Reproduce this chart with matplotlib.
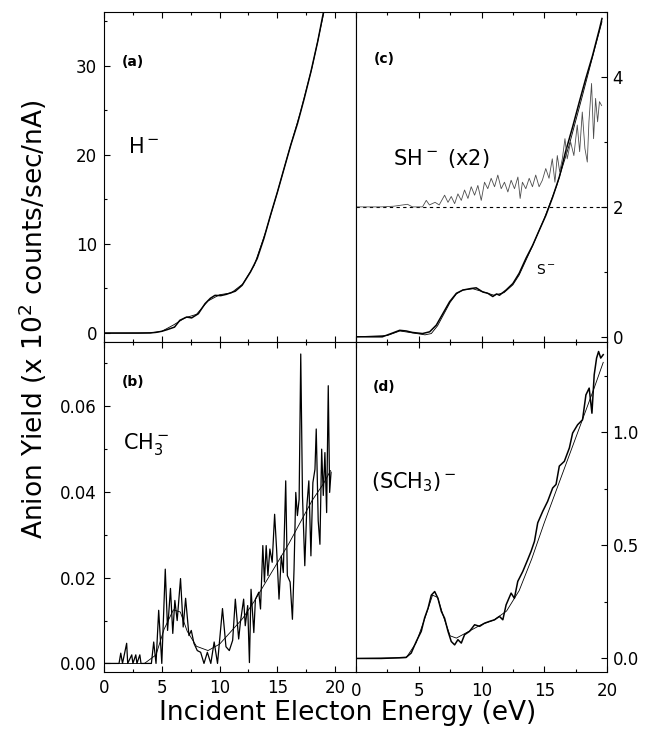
import matplotlib
matplotlib.use("Agg")
import matplotlib.pyplot as plt
from matplotlib.ticker import MultipleLocator

# ---- data ----
# (a) H-
e_a = [0, 1, 2, 3, 4, 4.5, 5.0, 5.5, 6.1, 6.56, 7.15, 7.58, 8.16, 8.74, 9.2, 9.6,
       10.1, 10.6, 11.36, 11.95, 12.67, 13.25, 13.83, 14.4, 15.0, 15.58, 16.16,
       16.74, 17.32, 17.9, 18.49, 19.0, 19.4]
h_a = [0, 0, 0, 0, 0.02, 0.08, 0.2, 0.4, 0.67, 1.43, 1.8, 1.7, 2.17, 3.3, 3.9, 4.23,
       4.2, 4.35, 4.7, 5.36, 6.85, 8.35, 10.6, 13.2, 15.8, 18.46, 21.1,
       23.5, 26.3, 29.3, 32.7, 36.07, 38.5]
e_a_fit = [0, 4, 5, 6, 7, 8, 9, 10, 11, 12, 13, 14, 15, 16, 17, 18, 19, 19.4]
h_a_fit = [0, 0.02, 0.2, 0.9, 1.7, 2.1, 3.6, 4.3, 4.5, 5.5, 7.6, 11.4, 15.8, 20.4, 24.8, 29.8, 35.8, 38.5]

# (b) CH3-
e_b = [0, 1.3, 1.45, 1.6, 1.96, 2.05, 2.4, 2.5, 2.75, 2.85, 3.1, 3.2, 4.1, 4.3, 4.5,
       4.73, 5.0, 5.3, 5.5, 5.75, 5.95, 6.13, 6.33, 6.62, 6.85, 7.06, 7.35, 7.55,
       7.78, 8.07, 8.36, 8.65, 8.94, 9.24, 9.53, 9.82, 10.25, 10.55, 10.84, 11.13,
       11.36, 11.65, 11.8, 12.08, 12.22, 12.43, 12.58, 12.72, 12.96, 13.1, 13.39,
       13.54, 13.74, 13.88, 14.03, 14.18, 14.35, 14.55, 14.76, 14.93, 15.14, 15.34,
       15.51, 15.72, 15.86, 16.1, 16.3, 16.44, 16.59, 16.73, 16.88, 17.02, 17.17,
       17.37, 17.55, 17.72, 17.9, 18.07, 18.25, 18.36, 18.53, 18.68, 18.83, 18.97,
       19.11, 19.26, 19.4, 19.52, 19.64]
ch3_b = [0, 0, 0.0024, 0, 0.0047, 0, 0.002, 0, 0.002, 0, 0.002, 0, 0, 0.005, 0.0,
         0.0124, 0, 0.022, 0.0077, 0.0175, 0.007, 0.0147, 0.01, 0.0198, 0.0085, 0.0152, 0.0065, 0.0077,
         0.0047, 0.003, 0.0026, 0, 0.0026, 0, 0.005, 0, 0.0128, 0.0039, 0.003, 0.0054,
         0.015, 0.0057, 0.0096, 0.015, 0.0088, 0.0135, 0.0002, 0.0173, 0.0072, 0.015, 0.0166,
         0.0127, 0.0275, 0.019, 0.0275, 0.0205, 0.0267, 0.0236, 0.0348, 0.0267, 0.015, 0.0251,
         0.0212, 0.0426, 0.0205, 0.019, 0.0103, 0.022, 0.0399, 0.0345, 0.0383, 0.0722, 0.0391,
         0.0228, 0.0368, 0.0426, 0.0251, 0.0422, 0.0453, 0.0547, 0.0333, 0.0278, 0.05, 0.0392,
         0.0492, 0.0352, 0.0648, 0.0399, 0.0446]
e_b_fit = [0, 3.5, 4.5, 5.2, 6.0, 6.6, 7.2, 8.0, 9.0, 10.0, 11.0, 12.0, 13.0, 14.0,
           15.0, 16.0, 17.0, 18.0, 19.0, 19.6]
ch3_b_fit = [0, 0, 0.002, 0.008, 0.0125, 0.012, 0.0075, 0.004, 0.003, 0.0045, 0.0075,
             0.0105, 0.0145, 0.019, 0.0235, 0.028, 0.033, 0.038, 0.042, 0.045]

# (c) S- and SH- (x2, drawn on top of a baseline at 2)
e_c = [0, 1, 2.1, 2.8, 3.48, 4.0, 4.5, 5.3, 5.87, 6.4, 6.93, 7.46, 8.0, 8.52, 9.18,
       9.58, 10.1, 10.5, 10.9, 11.2, 11.43, 11.96, 12.5, 13.0, 13.55, 14.08, 14.6,
       15.13, 15.67, 16.2, 16.7, 17.26, 17.8, 18.3, 18.85, 19.4, 19.6]
s_c = [0.0, 0.0, 0.0, 0.05, 0.10, 0.09, 0.067, 0.05, 0.077, 0.18, 0.36, 0.54, 0.67, 0.72, 0.744,
       0.754, 0.69, 0.67, 0.62, 0.66, 0.64, 0.72, 0.82, 0.977, 1.21, 1.41, 1.64,
       1.87, 2.15, 2.46, 2.85, 3.23, 3.62, 3.97, 4.33, 4.74, 4.9]
e_c_fit = [0, 2.5, 3.5, 4.5, 5.5, 6.0, 6.5, 7.0, 7.5, 8.0, 8.5, 9.3, 10.0, 11.0, 11.8,
           12.5, 13.0, 14.0, 15.0, 16.0, 17.0, 18.0, 19.0, 19.6]
s_c_fit = [0, 0.02, 0.09, 0.06, 0.03, 0.05, 0.17, 0.35, 0.53, 0.66, 0.72, 0.74, 0.70,
           0.64, 0.68, 0.8, 0.95, 1.37, 1.82, 2.33, 2.96, 3.68, 4.42, 4.85]
sh_offset = 2.0
e_sh = [0, 1, 2, 3, 4.1, 4.5, 5.3, 5.6, 5.85, 6.3, 6.63, 7.06, 7.33, 7.59, 7.86, 8.12,
        8.39, 8.65, 8.92, 9.18, 9.45, 9.71, 9.98, 10.24, 10.5, 10.77, 11.04, 11.3,
        11.57, 11.83, 12.1, 12.36, 12.63, 12.9, 13.08, 13.26, 13.53, 13.8, 14.06, 14.32,
        14.59, 14.85, 15.12, 15.38, 15.64, 15.85, 16.04, 16.23, 16.44, 16.65, 16.83,
        17.1, 17.36, 17.63, 17.82, 18.03, 18.24, 18.43, 18.56, 18.77, 18.93, 19.09,
        19.25, 19.4, 19.57]
sh_c = [0.0, 0.0, 0.0, 0.01, 0.04, 0.0, 0.0, 0.1, 0.03, 0.07, 0.03, 0.18, 0.07, 0.16,
        0.05, 0.2, 0.1, 0.26, 0.13, 0.31, 0.18, 0.33, 0.1, 0.38, 0.28, 0.44, 0.31, 0.49,
        0.28, 0.38, 0.23, 0.41, 0.28, 0.46, 0.13, 0.38, 0.28, 0.44, 0.31, 0.49,
        0.31, 0.41, 0.59, 0.44, 0.74, 0.38, 0.79, 0.54, 0.74, 1.05, 0.74,
        1.0, 0.79, 1.26, 0.85, 1.46, 0.9, 0.69, 1.31, 1.9, 1.05, 1.67,
        1.31, 1.62, 1.56]

# (d) (SCH3)-
e_d = [0, 1, 2, 3, 3.46, 4.0, 4.4, 4.8, 5.2, 5.47, 5.74, 6.0, 6.27, 6.53, 6.8, 7.06,
       7.33, 7.59, 7.86, 8.12, 8.39, 8.65, 9.05, 9.45, 9.85, 10.24, 10.64, 11.04,
       11.43, 11.7, 11.96, 12.36, 12.62, 12.89, 13.29, 13.68, 13.95, 14.22, 14.48,
       14.88, 15.27, 15.67, 15.94, 16.2, 16.6, 17.0, 17.26, 17.66, 18.05, 18.32,
       18.58, 18.8, 18.98, 19.17, 19.33, 19.5, 19.7]
sch3_d = [0, 0, 0, 0.002, 0.003, 0.005, 0.024, 0.075, 0.12, 0.18, 0.222, 0.28, 0.296,
          0.266, 0.208, 0.178, 0.12, 0.075, 0.06, 0.083, 0.068, 0.105, 0.12, 0.149,
          0.142, 0.156, 0.164, 0.171, 0.186, 0.171, 0.237, 0.289, 0.266, 0.341, 0.385,
          0.437, 0.474, 0.518, 0.6, 0.651, 0.695, 0.754, 0.77, 0.851, 0.872, 0.931,
          0.997, 1.034, 1.056, 1.166, 1.196, 1.085, 1.255, 1.329, 1.358, 1.329, 1.344]
e_d_fit = [0, 4.0, 4.8, 5.5, 6.1, 6.5, 7.0, 7.5, 8.0, 9.0, 10.0, 11.0, 12.0, 13.0,
           14.0, 15.0, 16.0, 17.0, 18.0, 19.0, 19.7]
sch3_d_fit = [0, 0.003, 0.07, 0.18, 0.28, 0.27, 0.18, 0.1, 0.09, 0.12, 0.15, 0.17,
              0.21, 0.3, 0.44, 0.6, 0.75, 0.9, 1.05, 1.2, 1.31]

# ---- figure ----
fig = plt.figure(figsize=(6.48, 7.34), dpi=100)
L, M, R = 104 / 648, 356 / 648, 607 / 648
B, H, T = 1 - 672 / 734, 1 - 342 / 734, 1 - 12 / 734

ax_a = fig.add_axes([L, H, M - L, T - H])
ax_c = fig.add_axes([M, H, R - M, T - H])
ax_b = fig.add_axes([L, B, M - L, H - B])
ax_d = fig.add_axes([M, B, R - M, H - B])

data_lw, fit_lw = 1.1, 0.6

ax_a.plot(e_a, h_a, color='black', lw=data_lw)
ax_a.plot(e_a_fit, h_a_fit, color='black', lw=fit_lw)
ax_b.plot(e_b, ch3_b, color='black', lw=0.9)
ax_b.plot(e_b_fit, ch3_b_fit, color='black', lw=fit_lw)
ax_c.plot(e_c, s_c, color='black', lw=data_lw)
ax_c.plot(e_c_fit, s_c_fit, color='black', lw=fit_lw)
ax_c.axhline(sh_offset, color='black', lw=0.8, ls=(0, (3, 3)))
ax_c.plot(e_sh, [sh_offset + v for v in sh_c], color='0.3', lw=0.6)
ax_d.plot(e_d, sch3_d, color='black', lw=data_lw)
ax_d.plot(e_d_fit, sch3_d_fit, color='black', lw=fit_lw)

# limits and ticks
ax_a.set_ylim(-1, 36)
ax_b.set_ylim(-0.002, 0.075)
ax_c.set_ylim(-0.08, 5.0)
ax_d.set_ylim(-0.06, 1.40)
for ax in (ax_a, ax_b):
    ax.set_xlim(0, 21.8)
for ax in (ax_c, ax_d):
    ax.set_xlim(0, 20)

ax_a.yaxis.set_major_locator(MultipleLocator(10))
ax_a.yaxis.set_minor_locator(MultipleLocator(5))
ax_b.yaxis.set_major_locator(MultipleLocator(0.02))
ax_b.yaxis.set_minor_locator(MultipleLocator(0.01))
ax_b.yaxis.set_major_formatter(plt.FormatStrFormatter('%.2f'))
ax_c.yaxis.set_major_locator(MultipleLocator(2))
ax_c.yaxis.set_minor_locator(MultipleLocator(1))
ax_d.yaxis.set_major_locator(MultipleLocator(0.5))
ax_d.yaxis.set_minor_locator(MultipleLocator(0.25))
ax_d.yaxis.set_major_formatter(plt.FormatStrFormatter('%.1f'))

for ax in (ax_a, ax_b, ax_c, ax_d):
    ax.xaxis.set_major_locator(MultipleLocator(5))
    ax.xaxis.set_minor_locator(MultipleLocator(2.5))
    ax.tick_params(which='both', direction='in', top=True, labelsize=12, width=0.8)
    ax.tick_params(which='major', length=4)
    ax.tick_params(which='minor', length=2.5)
    ax.tick_params(axis='x', pad=7)
    for sp in ax.spines.values():
        sp.set_linewidth(0.8)

for ax in (ax_a, ax_b):
    ax.tick_params(which='both', left=True, right=False, labelleft=True, pad=5)
for ax in (ax_c, ax_d):
    ax.tick_params(which='both', left=False, right=True, labelleft=False,
                   labelright=True)
    ax.tick_params(axis='y', pad=4)
for ax in (ax_a, ax_c):
    ax.tick_params(labelbottom=False)

# panel texts
ax_a.text(0.07, 0.85, '(a)', transform=ax_a.transAxes, fontsize=10,
          fontweight='bold', va='center')
ax_a.text(0.095, 0.59, 'H$^-$', transform=ax_a.transAxes, fontsize=15, va='center')
ax_b.text(0.07, 0.88, '(b)', transform=ax_b.transAxes, fontsize=10,
          fontweight='bold', va='center')
ax_b.text(0.075, 0.69, 'CH$_3^-$', transform=ax_b.transAxes, fontsize=15, va='center')
ax_c.text(0.072, 0.858, '(c)', transform=ax_c.transAxes, fontsize=10,
          fontweight='bold', va='center')
ax_c.text(0.146, 0.556, 'SH$^-$ (x2)', transform=ax_c.transAxes, fontsize=15,
          va='center')
ax_c.text(0.717, 0.218, 'S$^-$', transform=ax_c.transAxes, fontsize=10, va='center')
ax_d.text(0.066, 0.864, '(d)', transform=ax_d.transAxes, fontsize=10,
          fontweight='bold', va='center')
ax_d.text(0.06, 0.576, '(SCH$_3$)$^-$', transform=ax_d.transAxes, fontsize=15,
          va='center')

fig.text(0.05, 0.565, 'Anion Yield (x 10$^2$ counts/sec/nA)', rotation=90,
         ha='center', va='center', fontsize=19)
fig.text(0.537, 0.029, 'Incident Electon Energy (eV)', ha='center', va='center',
         fontsize=19)

fig.savefig('out.png', dpi=100)
